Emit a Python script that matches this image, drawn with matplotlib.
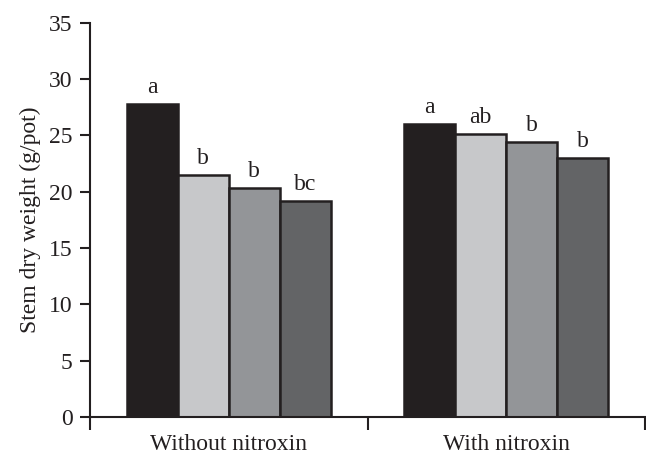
import numpy as np
import matplotlib
matplotlib.use("Agg")
import matplotlib.pyplot as plt

# data
groups = ["Without nitroxin", "With nitroxin"]
bar1 = [27.8, 26.0]
bar2 = [21.5, 25.1]
bar3 = [20.3, 24.4]
bar4 = [19.2, 23.0]
letters1 = ["a", "a"]
letters2 = ["b", "ab"]
letters3 = ["b", "b"]
letters4 = ["bc", "b"]

colors = ["#231f20", "#c7c8ca", "#939598", "#636466"]
ink = "#231f20"

plt.rcParams["font.family"] = ["Liberation Serif", "DejaVu Serif"]

fig = plt.figure(figsize=(6.46, 4.57), dpi=100)
ax = fig.add_axes([90 / 646, 1 - 417 / 457, 555 / 646, (417 - 22.7) / 457])

x = np.arange(len(groups)) + 0.5
w = 0.1835
series = [bar1, bar2, bar3, bar4]
labels = [letters1, letters2, letters3, letters4]
for i, (vals, lets) in enumerate(zip(series, labels)):
    pos = x + (i - 1.5) * w
    ax.bar(pos, vals, w, color=colors[i], edgecolor=ink, linewidth=1.8, zorder=2)
    for px, v, t in zip(pos, vals, lets):
        ax.annotate(t, (px, v), xytext=(0, 8), textcoords="offset points",
                    ha="center", va="baseline", fontsize=17, color=ink)

ax.set_xlim(0, 2)
ax.set_ylim(0, 35)
ax.set_yticks(np.arange(0, 36, 5))
ax.set_xticks([0, 1, 2])
ax.set_xticklabels([])
ax.set_xticks(x, minor=True)
ax.set_xticklabels(groups, minor=True)

ax.tick_params(axis="y", direction="out", length=7.5, width=1.5, pad=5,
               labelsize=17, color=ink, labelcolor=ink)
ax.tick_params(axis="x", which="major", direction="out", length=9, width=1.5, color=ink)
ax.tick_params(axis="x", which="minor", length=0, pad=12.5, labelsize=17, labelcolor=ink)

for s in ["top", "right"]:
    ax.spines[s].set_visible(False)
for s in ["left", "bottom"]:
    ax.spines[s].set_linewidth(1.5)
    ax.spines[s].set_color(ink)

ax.set_ylabel("Stem dry weight (g/pot)", fontsize=17, color=ink, labelpad=6)

fig.savefig("out.png", dpi=100)
